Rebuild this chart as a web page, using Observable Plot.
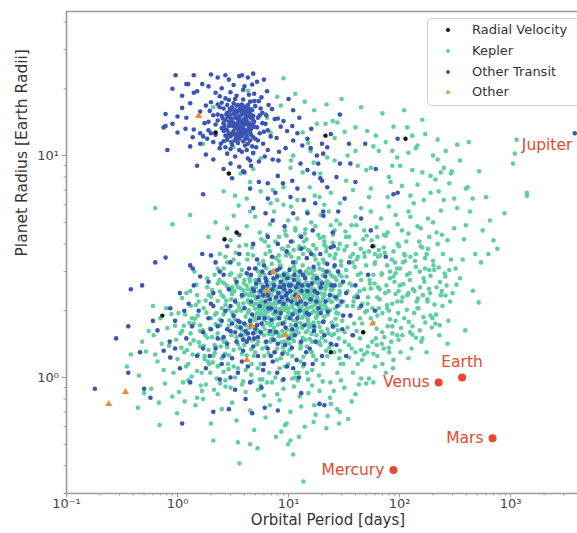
<!DOCTYPE html>
<html><head><meta charset="utf-8">
<script src="https://cdn.jsdelivr.net/npm/d3@7"></script>
<script src="https://cdn.jsdelivr.net/npm/@observablehq/plot@0.6"></script>
<style>
body{margin:0;background:#fff;overflow:hidden}
#wrap{position:relative;width:577px;height:533px;overflow:hidden}
.legend{position:absolute;left:427px;top:18px;width:170px;height:86px;border:1px solid #d0d0d0;border-radius:4px;background:rgba(255,255,255,0.85);font:13px "DejaVu Sans",sans-serif;color:#333}
.legend .row{position:absolute;left:0;height:20px;line-height:20px;white-space:nowrap}
.legend svg{position:absolute;left:14px;top:5px}
.legend span{position:absolute;left:44px}
</style></head><body><div id="wrap"></div>
<script>
// ---- data: [orbital period (days), planet radius (Earth radii)] ----
const categories = ["Radial Velocity", "Kepler", "Other Transit", "Other"];
const categoryColors = ["#111111", "#5fcfa3", "#3a55b4", "#f08a32"];

const radialVelocityPoints = [[0.73,1.9],[2.2,12.7],[2.65,4.2],[2.9,8.3],[3.4,4.5],[21.5,12.3],[47,1.6],[57,3.9],[113,11.9],[24,1.3]];

const otherPoints = [[0.24,0.76],[0.34,0.86],[1.55,15.1],[4.2,1.2],[4.7,1.7],[6.4,2.46],[7.3,3.0],[9.4,1.55],[12,2.3],[57,1.75]];

const keplerCore = [[3.4,1.52],[5.7,2.21],[8.9,1.37],[12.3,2.64],[4.1,1.88],[6.6,1.29],[15.8,1.73],[2.5,2.05],[9.7,2.93],[21.4,1.46],[7.3,1.63],[11.1,1.95],[3.9,2.47],[18.2,2.28],[5.2,1.41],[26.5,1.84],[13.6,1.24],[2.9,1.71],[8.1,2.56],[16.7,3.05],[4.6,2.14],[10.4,1.55],[6.1,1.92],[24.0,2.47],[3.2,1.33],[14.5,2.02],[7.8,2.79],[19.6,1.61],[5.5,2.67],[9.2,1.78],[2.7,1.45],[12.9,1.39],[28.8,2.12],[4.4,1.67],[17.3,2.71],[6.9,2.38],[11.7,2.19],[3.6,2.86],[22.5,1.92],[8.5,1.22],[5.0,1.81],[15.1,2.41],[10.0,2.66],[2.3,1.58],[7.0,1.49],[13.2,1.86],[20.3,2.89],[4.9,2.33],[9.5,1.43],[6.3,3.11],[25.7,1.57],[3.1,1.96],[16.0,1.31],[11.4,3.02],[5.9,1.71],[8.3,2.04],[18.8,2.17],[2.6,2.31],[14.0,2.83],[7.5,1.84],[4.2,1.26],[12.0,1.67],[29.5,2.63],[6.7,1.57],[10.7,2.32],[3.8,1.63],[21.9,2.06],[9.0,2.49],[5.3,3.01],[15.5,1.49],[2.8,2.58],[17.9,1.88],[7.6,2.21],[13.9,2.29],[4.7,1.47],[11.0,1.81],[6.0,2.52],[23.3,1.36],[3.3,2.24],[8.8,1.62],[19.2,2.51],[5.6,1.97],[14.8,1.62],[10.2,1.33],[2.4,1.82],[7.2,2.97],[16.4,2.23],[4.0,2.06],[12.6,2.48],[27.1,1.72],[6.4,1.76],[9.9,1.96],[3.5,1.41],[20.8,1.79],[8.0,2.38],[5.1,2.55],[13.4,1.51],[2.2,1.38],[11.9,2.76],[6.8,2.01],[18.5,1.43],[4.5,2.71],[15.3,2.94],[7.9,1.35],[10.9,2.13],[3.0,2.47],[24.8,2.34],[9.3,2.16],[5.8,1.35],[14.2,2.11],[2.9,1.26],[17.0,1.64],[6.5,2.27],[12.2,1.91],[4.3,1.96],[21.0,2.38],[8.6,2.87],[3.7,1.77],[10.5,1.72],[16.9,1.99],[5.4,2.42],[7.4,1.68],[26.0,2.83],[13.0,2.22],[2.5,1.49],[9.6,2.63],[4.8,1.59],[19.9,2.02],[6.2,1.44],[11.5,2.59],[3.4,2.63],[15.9,2.56],[8.4,1.91],[22.9,1.58],[5.0,2.04],[12.8,1.76],[7.1,2.64],[18.0,2.84],[2.7,2.12],[10.1,1.89],[4.1,2.38],[14.6,1.38],[6.6,1.86],[9.1,1.31],[28.0,1.94],[3.9,1.49],[16.3,2.67],[5.7,1.58],[11.2,1.46],[7.7,2.47],[20.0,1.51],[4.4,2.88],[13.7,2.58],[8.7,2.27],[3.2,1.88],[24.2,2.19],[6.1,1.65],[10.8,2.81],[2.3,2.21],[15.0,1.81],[5.2,1.73],[17.6,2.42],[9.4,1.56],[4.6,1.34],[12.4,2.08],[7.3,1.93],[19.0,1.69],[3.6,2.07],[14.3,2.47],[6.0,2.12],[27.8,1.63],[8.2,1.53],[11.6,1.61],[5.5,2.87],[21.6,2.64],[3.0,1.61],[9.8,2.21],[16.1,1.57],[4.9,1.88],[13.1,2.91],[7.0,2.35],[18.3,2.06],[2.6,1.92],[10.3,2.43],[6.4,2.74],[23.7,2.01],[4.0,1.56],[15.6,2.19],[8.0,1.73],[12.7,1.43],[5.9,2.31],[20.5,2.27],[3.3,2.78],[11.3,2.02],[7.8,1.61],[17.1,2.88],[9.0,2.07],[4.3,2.23],[14.1,1.92],[6.7,2.14],[25.3,1.69],[2.8,1.37],[10.6,1.63],[5.3,1.63],[16.6,2.33],[8.9,2.71],[3.8,2.31],[13.5,2.12],[7.5,1.47],[19.4,2.19],[4.7,2.54],[12.1,2.36],[6.3,1.37],[22.2,2.72],[9.5,1.87],[3.1,2.37],[15.4,1.69],[5.6,2.18],[11.8,1.78],[8.3,2.61],[18.7,1.77],[2.4,2.44],[14.9,2.31],[6.9,1.72],[10.0,2.04],[4.5,1.78],[29.0,2.41],[7.4,2.51],[13.3,1.67],[5.1,2.26],[17.5,2.15],[3.5,1.68],[9.3,2.78],[20.9,1.88],[6.5,1.98],[12.5,2.73],[4.2,2.59],[16.8,1.77],[8.6,1.44],[11.0,2.27],[2.9,2.03],[24.5,1.77],[7.1,1.77],[14.4,2.68],[5.8,2.05],[19.7,2.39],[3.7,2.52],[10.4,1.94],[6.2,2.39],[15.7,2.07],[9.7,1.64],[4.8,2.12],[13.8,1.99],[8.1,2.18],[21.2,2.12],[3.4,1.99],[12.0,2.14],[5.4,1.89],[18.1,1.97],[7.6,2.06],[10.9,1.57],[6.8,2.44],[16.2,2.45],[4.4,2.01],[14.7,1.74],[9.2,2.33],[23.0,2.24],[5.0,1.68],[11.4,2.23],[8.4,2.39],[3.9,2.16],[13.6,2.37],[7.2,1.56],[19.1,2.55],[6.0,1.81],[10.2,2.54],[15.2,2.26],[4.6,2.43],[12.3,1.59],[8.8,2.11],[17.7,1.86],[5.7,2.47],[9.9,2.41],[14.0,2.17],[6.6,2.32],[11.9,1.98],[7.9,1.99],[20.6,2.31],[4.1,1.72],[13.2,2.43],[8.5,2.02],[16.5,2.09],[5.2,2.15],[10.7,2.08],[7.7,2.15],[12.9,2.01],[9.1,2.01],[6.3,2.06],[15.8,2.37]];

const keplerWide = [[1.1,1.62],[1.2,2.4],[1.35,1.85],[1.48,2.62],[1.6,1.38],[1.72,2.05],[1.85,2.8],[1.95,1.66],[2.05,2.48],[2.18,1.92],[2.3,3.1],[2.42,1.72],[2.55,2.68],[2.68,1.28],[2.8,3.3],[2.93,1.81],[1.25,1.15],[1.4,1.75],[1.55,2.2],[1.65,1.05],[1.78,1.55],[1.92,2.35],[2.1,1.25],[2.25,1.95],[2.38,2.75],[2.62,1.45],[2.75,2.22],[2.88,1.09],[1.15,1.3],[1.32,2.1],[1.52,1.9],[1.88,1.18],[2.45,1.38],[2.95,2.9],[1.02,1.95],[1.42,3.0],[2.15,2.9],[2.7,3.5],
[3.05,2.95],[3.2,1.12],[3.35,3.65],[3.5,2.15],[3.65,1.35],[3.8,3.05],[3.95,2.65],[4.1,1.08],[4.25,3.4],[4.4,2.35],[4.55,1.82],[4.7,3.85],[4.85,1.25],[5.0,2.75],[5.2,1.95],[5.4,3.25],[5.6,1.15],[5.8,2.6],[6.0,1.55],[6.2,3.6],[6.45,2.1],[6.7,1.05],[6.95,3.0],[7.2,2.45],[7.45,1.3],[7.7,3.45],[8.0,1.9],[8.3,1.1],[8.6,3.15],[8.9,2.25],[9.2,1.45],[9.5,3.55],[9.8,2.8],[3.1,2.55],[3.4,1.7],[3.7,2.9],[4.0,1.4],[4.3,2.5],[4.65,1.15],[4.95,2.15],[5.3,1.45],[5.65,2.95],[6.05,1.25],[6.5,2.55],[6.9,1.45],[7.35,2.7],[7.85,1.2],[8.35,2.6],[8.85,1.55],[9.35,2.05],[9.9,1.15],[3.3,1.0],[3.9,0.96],[4.6,1.03],[5.5,0.98],[6.4,0.95],[7.6,1.0],[8.8,0.97],[3.55,3.25],[4.15,3.95],[4.8,3.55],[5.7,4.2],[6.6,3.9],[7.6,4.1],[8.7,3.8],[9.6,4.35],[5.9,3.35],[7.05,3.25],[8.15,3.55],[3.25,2.45],[3.75,2.0],[4.45,2.8],[5.05,1.6],[5.5,2.35],[6.1,2.9],[6.75,1.75],[7.15,2.15],[7.95,2.9],[8.45,1.75],[9.05,2.6],[9.65,1.85],
[10.3,3.1],[10.8,1.25],[11.3,2.45],[11.8,1.6],[12.3,3.45],[12.9,2.05],[13.5,1.12],[14.1,2.85],[14.8,1.85],[15.5,3.7],[16.2,1.3],[17.0,2.5],[17.8,1.55],[18.6,3.25],[19.5,2.1],[20.4,1.15],[21.4,2.95],[22.4,1.65],[23.5,3.55],[24.6,2.2],[25.8,1.3],[27.0,2.75],[28.3,1.5],[29.6,3.35],[10.5,2.2],[11.1,3.75],[11.6,1.05],[12.2,2.85],[12.8,1.35],[13.4,3.2],[14.0,2.35],[14.7,1.05],[15.4,2.6],[16.1,1.95],[16.9,3.05],[17.7,1.2],[18.5,2.65],[19.4,1.4],[20.3,3.05],[21.3,2.5],[22.3,1.25],[23.4,2.65],[24.5,1.55],[25.7,3.15],[26.9,1.95],[28.2,2.35],[29.5,1.15],[10.9,4.1],[12.6,4.35],[14.5,4.2],[16.7,3.95],[19.1,4.25],[22.0,3.85],[25.2,4.4],[28.9,4.0],[11.5,1.0],[15.0,0.98],[18.8,1.02],[23.8,0.95],[27.5,1.05],[10.2,1.42],[13.0,2.55],[16.4,2.8],[20.9,2.35],[26.3,2.05],[11.9,2.3],[14.3,1.6],[17.2,2.2],[19.8,2.7],[24.0,2.9],[10.6,2.65],[13.7,1.9],[15.9,1.7],[18.1,1.9],[21.8,2.05],[25.0,2.5],[29.0,2.6],[12.5,3.0],[17.5,3.4],[21.0,3.3],[27.7,3.0],
[31,2.2],[33,3.05],[35,1.4],[37,2.6],[39,1.75],[41,3.4],[43,2.05],[45,2.75],[47,1.6],[50,3.2],[52,2.3],[55,1.85],[58,2.9],[61,1.5],[64,2.55],[67,3.55],[70,1.95],[74,2.4],[78,1.7],[82,3.0],[86,2.15],[90,2.7],[95,1.55],[30,2.85],[32,1.6],[34,2.45],[36,3.5],[38,2.1],[40,1.3],[42,2.9],[44,1.85],[48,2.5],[51,1.3],[54,2.65],[57,2.05],[60,3.6],[63,1.9],[66,2.25],[69,2.95],[72,1.35],[76,2.6],[80,2.0],[84,1.45],[88,2.85],[92,1.8],[98,2.45],[33,4.3],[40,4.0],[48,3.65],[56,4.15],[65,3.75],[75,4.35],[85,3.4],[99,3.9],[31,1.15],[38,1.05],[46,1.2],[58,1.28],[70,1.15],[88,1.2],
[104,2.2],[110,1.85],[117,2.9],[124,1.6],[132,2.5],[140,3.6],[148,2.05],[157,1.45],[167,2.7],[178,2.25],[190,1.9],[202,3.2],[215,2.55],[228,1.55],[243,2.1],[258,2.85],[275,1.8],[107,3.3],[120,2.4],[135,1.95],[152,3.0],[162,2.35],[185,3.05],[210,1.75],[235,2.35],[265,2.6],[115,4.1],[160,3.85],[220,4.0],[280,3.05],[102,1.3],[128,1.35],[175,1.3]];

const keplerMid = [[8.2,3.35],[9.1,2.95],[10.1,3.6],[11.2,3.15],[12.4,2.55],[13.8,3.85],[15.3,2.45],[17.0,3.55],[18.9,2.75],[21.0,3.95],[23.3,2.6],[25.9,3.45],[28.7,2.9],[31.9,3.75],[35.4,2.65],[39.3,3.15],[43.6,2.45],[48.4,3.5],[53.7,2.75],[59.6,3.25],[66.2,2.5],[73.5,3.65],[81.6,2.8],[90.6,3.3],[100.5,2.6],[111.6,3.55],[123.9,2.75],[137.5,3.35],[152.6,2.55],[169.4,3.1],[188.0,2.4],[8.6,1.75],[9.6,2.1],[10.7,1.5],[11.9,2.4],[13.2,1.7],[14.6,2.05],[16.2,1.45],[18.0,2.3],[20.0,1.6],[22.2,2.0],[24.6,1.4],[27.3,2.25],[30.3,1.8],[33.6,2.1],[37.3,1.55],[41.4,2.35],[46.0,1.75],[51.0,2.0],[56.6,1.45],[62.8,2.3],[69.7,1.6],[77.4,2.05],[85.9,1.7],[95.4,2.2],[105.9,1.55],[117.5,2.35],[130.4,1.7],[144.8,2.05],[160.7,1.5],[178.4,2.2],[198.0,1.85],[9.4,4.4],[11.5,4.7],[14.0,4.45],[17.4,4.8],[20.7,4.3],[26.0,4.6],[32.5,4.55],[40.8,4.85],[50.5,4.35],[62.0,4.75],[78.0,4.5],[96.0,4.9],[120.0,4.45],[145.0,4.8],[185.0,4.3],[9.8,1.28],[12.8,1.18],[16.7,1.25],[21.8,1.32],[28.6,1.22],[37.0,1.35],[47.8,1.27],[62.2,1.4],[80.6,1.3],[8.9,2.45],[10.4,2.85],[12.0,2.15],[13.9,2.65],[16.1,2.95],[18.6,2.2],[21.5,2.55],[24.9,2.85],[28.8,2.45],[33.3,2.85],[38.5,2.2],[44.5,2.95],[51.5,2.15],[59.5,2.65],[68.8,2.9],[79.5,2.45],[92.0,2.95],[106.3,2.3],[123.0,2.95],[142.2,2.2],[164.5,2.8],[2.3,2.65],[2.65,1.95],[3.05,2.25],[3.5,2.55],[4.0,2.75],[4.6,2.35],[5.3,2.05],[6.1,2.45],[7.0,2.65],[8.05,2.35],[1.6,1.72],[1.85,2.55],[2.15,1.4],[2.5,2.35],[2.85,1.15],[3.3,1.82],[3.8,1.28],[4.35,2.18],[5.0,1.3],[5.75,1.9],[6.6,1.58],[7.6,2.25],[1.3,1.42],[1.5,2.35],[1.75,1.25],[2.0,1.85],[2.3,1.12],[2.65,2.65],[3.05,1.55],[3.5,1.1],[4.0,2.35],[4.6,1.72],[5.3,1.1],[6.1,2.0],[7.0,1.25],[8.05,1.58],[9.3,1.12],[10.7,1.5],[12.3,1.05],[14.2,1.48],[16.3,1.08],[18.8,1.45]];

const keplerShort = [[0.45,1.02],[0.52,1.31],[0.58,0.89],[0.61,1.55],[0.66,1.18],[0.72,1.42],[0.77,0.94],[0.81,1.67],[0.86,1.23],[0.92,1.05],[0.97,1.48],[1.03,0.86],[1.08,1.36],[1.14,1.71],[1.19,1.12],[1.25,0.97],[1.31,1.58],[1.37,1.27],[1.43,1.84],[1.5,1.07],[1.56,1.44],[1.62,0.92],[1.69,1.63],[1.75,1.21],[1.82,1.96],[1.9,1.33],[1.97,1.05],[2.05,1.52],[2.13,0.88],[2.2,1.74],[0.55,1.62],[0.63,1.27],[0.7,1.85],[0.75,1.08],[0.84,1.39],[0.9,0.82],[0.95,1.71],[1.0,1.21],[1.06,1.58],[1.12,0.95],[1.17,1.92],[1.22,1.33],[1.28,1.76],[1.34,1.01],[1.4,1.47],[1.46,2.12],[1.53,1.27],[1.59,1.62],[1.66,0.87],[1.72,1.39],[1.79,2.22],[1.86,1.51],[1.93,1.15],[2.0,2.31],[2.08,1.17],[2.16,1.29],[2.25,0.99],[2.33,1.13],[2.42,0.94],[2.5,1.22],[2.6,1.06],[2.7,0.91],[0.35,1.12],[0.44,0.73],[0.5,0.85],[0.68,0.77],[0.79,2.05],[0.88,1.93],[1.1,2.28],[1.3,2.45],[0.6,2.1],[0.48,1.45],[0.38,1.27],[1.16,0.78],[1.45,0.75],[1.7,0.8],[0.99,0.69],[0.69,0.61]];

const keplerSmall = [[2.3,0.84],[3.1,0.77],[3.8,0.93],[4.5,0.71],[5.3,0.88],[6.2,0.66],[7.1,0.95],[8.3,0.79],[9.6,0.62],[11.2,0.91],[13.0,0.74],[15.1,0.85],[17.5,0.68],[20.3,0.96],[23.6,0.81],[27.4,0.72],[31.8,0.9],[37.0,0.78],[43.0,0.93],[2.7,0.97],[3.4,0.64],[4.1,0.86],[4.9,0.58],[5.8,0.98],[6.8,0.75],[7.7,0.54],[9.0,0.89],[10.4,0.7],[12.1,0.97],[14.0,0.6],[16.3,0.92],[18.9,0.76],[21.9,0.59],[25.5,0.87],[29.6,0.97],[34.4,0.65],[40.0,0.84],[50.0,0.94],[3.5,0.51],[4.5,0.5],[2.1,0.52],[5.25,0.48],[9.9,0.5],[12.4,0.54],[10.4,0.52],[9.3,0.61],[17,0.75],[29,0.7],[24,0.76],[3.6,0.41],[13.6,0.34],[11.0,0.45],[16.8,0.63],[8.6,0.57],[2.0,0.62],[2.5,0.72],[1.8,0.93],[1.5,0.81],[12.6,0.82],[5.6,0.92],[7.9,0.84],[10.8,0.99],[4.7,0.96],[3.0,0.9],[6.0,0.83],[19.0,0.87],[22.5,0.67],[28.5,0.62],[45,0.99],[58,0.95]];

const keplerLong = [[32,1.45],[36,1.9],[41,1.62],[46,2.15],[52,1.38],[58,1.76],[65,2.05],[73,1.52],[82,1.83],[92,2.38],[103,1.67],[116,2.02],[130,1.56],[146,2.27],[164,1.87],[184,2.51],[206,2.13],[231,2.69],[259,2.34],[300,2.4],[325,2.62],[457,2.46],[515,2.18],[390,1.63],[270,1.42],[170,1.77],[87,1.1],[34,1.68],[39,2.3],[44,1.5],[49,1.97],[55,2.52],[62,1.66],[69,1.42],[77,2.12],[86,1.58],[97,1.95],[108,2.64],[121,1.78],[136,2.45],[152,1.63],[190,2.87],[213,1.92],[240,2.45],[285,2.2],[350,2.8],[38,3.6],[47,4.2],[59,3.9],[72,4.4],[88,3.7],[105,4.6],[125,3.5],[150,4.1],[180,3.8],[215,4.5],[45,1.33],[63,1.25],[80,1.36],[98,1.48],[140,1.51],[60,1.12],[75,1.05],[120,1.22],[53,0.99],[42,1.15],[35,1.23],[29,1.32],[195,1.68],[230,1.72],[95,3.1],[112,3.35],[140,3.15],[170,3.45],[205,3.05],[245,3.6],[290,3.4],[33.4,3.9],[37.6,3.3],[42.1,3.5],[53.0,3.7],[60.2,3.3],[77.3,3.2],[101,3.1],[3.2,3.4],[5.1,3.1],[6.8,3.7],[8.4,3.2],[9.9,3.9],[11.6,3.3],[13.5,3.6],[15.2,3.1],[17.8,3.8],[20.4,3.4],[23.1,3.0],[26.5,3.6],[29.8,3.2],[4.3,3.6],[7.5,3.0],[10.6,3.5],[12.4,3.8],[14.3,3.0],[19.0,3.1],[21.8,3.7],[28.0,3.8],[44.6,3.8],[64.0,3.5],[2.6,3.1]];

const keplerUpper = [[9.0,22.3],[7.9,18.4],[8.5,16.8],[6.2,15.4],[6.9,12.7],[18,13.9],[13.4,12.7],[15,11.4],[11,10],[15.8,10.5],[22.3,9.8],[8.1,9.5],[5.6,9.7],[4.8,8.7],[3.7,8.3],[4.5,7.6],[10.4,8.8],[13.4,8.4],[16.8,9.3],[19.3,8.3],[3.3,6.6],[3.55,5.95],[3.2,5.35],[4.2,6.4],[5.6,6.9],[6.9,6.1],[9.0,7.2],[12,6.3],[14.7,5.6],[0.63,5.8],[4.3,19.6],[2.1,16.5],[1.7,11.3],[3.2,10.9],[4.8,10.2],[6.4,14.8],[5.3,17.6],[21.5,13.9],[27.5,14.1],[25,14.3],[40,13.4],[51,12.9],[61,12.3],[88,13.5],[117,13.4],[130,12.3],[145,11.1],[220,11.8],[330,11.2],[1130,11.8],[1090,10.2],[1050,9.2],[40,10.5],[86,10.5],[120,10.3],[220,9.6],[50,8.6],[55,8.8],[86,9.0],[101,9.0],[130,8.6],[160,8.4],[190,8.1],[235,8.4],[295,8.5],[410,7.2],[455,6.4],[880,5.5],[83,7.6],[55,7.1],[78,6.5],[125,6.6],[134,6.1],[190,6.8],[225,6.9],[250,6.3],[310,6.4],[53,6.5],[38,7.0],[29,6.1],[45,5.8],[55,5.6],[80,5.9],[125,5.3],[155,4.7],[180,5.2],[235,5.65],[270,4.15],[310,4.7],[395,4.85],[560,4.6],[700,4.15],[480,3.6],[630,3.6],[37,4.85],[29,4.9],[24,4.85],[23,5.6],[25,4.05],[63,4.3],[72,3.85],[96,4.0],[110,3.6],[155,3.9],[175,3.6],[200,3.36],[225,3.13],[255,2.94],[1400,6.8],[1400,6.6],[200,10.0],[250,8.8],[290,8.3],[395,7.1],[4.2,4.8],[4.5,5.6],[3.0,4.15],[2.4,3.6],[1.9,4.3],[5.5,4.5],[6.8,4.9],[8.2,4.3],[9.9,5.1],[11.5,4.6],[13.8,4.1],[16,5.0],[18.5,4.4],[7.4,5.6],[10.5,5.9],[5.0,5.3],[6.1,4.1],[8.9,3.8],[12.5,3.9],[15,3.75],[19.5,5.4],[21,4.1],[3.6,3.9],[2.8,4.7],[7.9,6.3],[17.2,6.6],[2.2,5.0],[6.4,4.4],[9.3,4.6],[14.2,4.65],
[11.5,19],[14,17.5],[17,16],[22,17],[30,18],[45,16.5],[70,15.5],[110,16],[160,14.5],[26,12],[34,10],[42,9],[65,10.5],[75,11.5],[95,9.8],[140,10.8],[170,12.5],[260,10.5],[350,9.5],[420,11.5],[520,8.5],[600,6.5],[330,5.8],[280,7.5],[210,7.8],[165,6.3],[145,7.4],[105,7.3],[92,5.4],[68,5.2],[48,4.6],[40,5.3],[33,7.7],[24,6.8],[19,6.5],[26,9.5],[32,12.8],[58,11.0],[80,8.0],[120,5.6],[200,5.0],[240,4.4],[380,4.2],[430,5.6],[650,5.1],[760,3.8],[540,3.3],[370,3.4],[320,3.1],[12,5.2],[9,6.0],[7.2,7.0],[10.5,9.5],[15.5,7.2],[21,6.0],[27,5.1],[35,4.3],[2.6,6.9],[1.3,5.4],[0.9,4.9]];

const transitHotJupiters = [[3.1,14.2],[3.5,13.1],[2.8,15.6],[4.2,12.4],[3.9,16.1],[2.6,12.9],[4.6,14.8],[3.3,11.7],[3.7,15.2],[2.9,13.6],[4.1,13.9],[3.4,16.8],[4.8,12.1],[2.7,14.5],[3.6,12.6],[4.4,15.7],[3.0,12.2],[3.8,14.0],[4.3,11.3],[2.5,15.1],[3.2,17.2],[4.9,13.5],[3.5,15.9],[2.8,11.8],[4.0,16.6],[3.3,13.4],[4.5,12.8],[3.9,11.6],[2.6,16.3],[3.1,12.5],[4.7,16.0],[3.6,14.6],[2.9,15.0],[4.2,14.3],[3.4,12.0],[3.8,17.0],[4.6,13.2],[3.0,16.0],[3.7,13.3],[4.1,11.9],[2.7,13.1],[3.2,15.4],[4.4,14.0],[3.5,11.4],[3.9,15.5],[2.6,14.0],[4.8,15.1],[3.3,14.8],[4.0,12.7],[3.1,16.5],[3.6,11.9],[4.3,16.9],[2.9,12.6],[3.8,12.9],[4.5,11.7],[3.4,15.6],[2.8,16.9],[4.1,15.3],[3.0,13.8],[3.7,16.4],[4.9,14.2],[3.2,12.9],[3.5,14.5],[4.2,13.0],[2.7,12.3],[3.9,13.6],[4.6,12.4],[3.3,16.0],[3.6,13.7],[4.0,14.7],[2.5,13.3],[3.1,11.2],[3.8,15.8],[4.4,12.9],[3.4,13.9],[2.9,14.2],[4.7,13.8],[3.7,12.2],[3.2,14.0],[4.3,15.0],[3.0,15.3],[3.5,16.9],[4.1,12.6],[2.6,11.6],[3.9,14.4],[4.5,16.2],[3.3,12.4],[3.6,15.0],[2.8,13.0],[4.2,16.3],
[3.15,13.6],[3.45,14.9],[3.75,12.8],[4.05,15.8],[2.85,14.9],[3.55,13.5],[4.35,13.6],[3.05,14.6],[3.85,12.3],[2.95,16.2],[4.15,14.6],[3.25,15.7],[3.65,16.2],[4.55,15.3],[2.75,15.3],[3.35,11.9],[4.25,12.0],[3.95,13.1],[3.15,12.7],[2.65,13.6],[4.75,14.5],[3.55,12.2],[3.85,16.6],[3.05,11.5],[4.45,13.4],[2.55,14.7],[3.45,12.5],[4.05,11.1],[3.65,14.1],[2.85,12.2],[5.2,13.4],[5.5,15.2],[5.0,16.7],[5.8,14.0],[2.3,14.4],[2.2,12.4],[2.4,16.5],[2.1,15.2],[5.3,11.7],[2.45,11.3],[6.0,12.8],[1.9,13.0],[1.95,15.9],[5.6,16.3],[4.9,17.6],[3.3,18.0],[2.9,17.8],[3.9,17.9],[4.5,17.5],[2.5,17.3],[3.6,10.6],[4.2,10.6],[3.0,10.7],[2.7,10.9],[4.7,11.0],[5.0,11.9],[1.75,14.0],[1.85,11.9],[6.3,15.2],[6.5,13.0],
[1.2,21.0],[1.5,19.5],[1.9,20.5],[2.3,22.5],[2.9,22.0],[3.6,22.8],[4.3,22.5],[5.2,21.5],[1.3,17.2],[1.1,16.4],[1.6,15.8],[1.4,13.1],[1.0,12.7],[1.7,12.2],[1.2,14.8],[2.0,17.4],[2.2,13.8],[1.8,16.8],[2.1,11.5],[2.4,18.5],[1.9,14.2],[2.3,15.3],[2.0,12.6],[1.6,11.3],[2.2,19.2],[2.5,20.1],[3.0,19.3],[3.4,18.6],[3.9,19.8],[4.4,18.8],[4.9,19.0],[5.4,17.6],[5.8,15.6],[6.2,13.9],[5.5,12.6],[6.6,16.9],[5.1,10.9],[5.9,11.3],[6.9,12.2],[7.5,14.6],[5.3,14.8],[5.7,18.3],[2.4,10.8],[2.8,10.2],[3.3,9.9],[3.8,10.4],[4.3,9.7],[4.8,10.3],[2.1,9.6],[1.8,10.1],[3.0,9.2],[3.6,8.9],[4.0,8.4],[4.6,9.0],[5.4,9.4],[6.1,9.9],[1.5,9.0],[2.6,8.7],[1.1,18.6],[0.9,20.0],[0.96,23],[1.0,15.0],[0.9,13.9],[1.3,11.0],[2.3,17.0],[2.7,18.1],[3.2,20.8],[4.0,20.5],[4.7,20.9],[6.4,19.5],[7.1,16.2],[6.0,22.0],[7.8,12.0],[8.5,13.5],[6.5,10.6],[7.2,9.6],[8.2,10.4],[1.4,23.0],[2.0,23.2],[1.25,21],[1.67,21],[2.7,23],[3.8,23],[4.8,23.4],[1.4,19.2],[0.78,15.4],[0.75,13.4],[1.18,13.2],[1.37,12.1],[1.6,12.6]];

const transitTail = [[8,14.7],[9,14.3],[10.8,13.6],[9.7,12.9],[12,12.6],[14.8,11.9],[13.3,11.1],[9.4,10.8],[8.1,9.5],[11,11.7],[15.8,10.8],[18,10],[20,11.3],[22.3,10.9],[18.5,9.2],[12.8,9.2],[14.8,8.6],[8,8.1],[8.9,7.5],[10.8,7.7],[12,7.1],[19.3,7.9],[22.3,7.2],[7.6,6.8],[10.4,6.5],[13.7,6.3],[17.4,6.1],[6.5,6.4],[4.8,5.8],[6.2,5.5],[11,5.5],[14.8,5.5],[20.6,5.35],[4.5,7.1],[5.4,7.6],[6.5,7.5],[3.9,8.5],[4.5,9.5],[3.1,7.9],[1.7,6.7],[0.81,10.6],[0.78,13.6],[29,15.3],[35,11.3],[49,11.3],[96,11.9],[88,6.7],[96,6.8],[40,7.6],[61,8.7],[29,9.2],[36,9.2],[20.5,10.2],[20,7.7],[20.5,5.6],[24,3.85],[3776,12.6],[16.5,4.6],[25,4.5],[13,4.3],[9.2,4.8],[7.2,5.1],[28,5.6],[32,6.4],[27,8.0],[17,8.3],[24,12.5],[16,13.2],[12.5,14.8],[11,16],[10,18]];

const transitSmall = [[2.1,2.4],[2.6,2.9],[3.0,2.1],[3.4,2.7],[3.8,2.35],[4.2,2.95],[4.6,2.2],[5.1,2.65],[5.6,2.45],[6.2,2.8],[6.8,2.25],[7.4,2.6],[8.1,2.4],[8.7,2.3],[9.2,2.5],[9.8,2.25],[10.4,2.45],[8.4,2.55],[9.5,2.35],[10.1,2.6],[11.2,2.75],[12.3,2.3],[13.5,2.9],[14.8,2.45],[16.2,2.65],[17.8,2.2],[19.5,2.55],[21.4,2.85],[23.5,2.35],[26.0,2.6],[3.2,1.9],[3.7,1.55],[4.1,1.62],[4.4,1.5],[4.8,1.58],[5.0,1.66],[5.3,1.52],[4.6,1.7],[3.9,1.48],[5.7,1.75],[6.3,1.45],[7.0,1.82],[7.7,1.6],[8.5,1.95],[9.4,1.68],[10.3,1.85],[11.4,1.55],[12.6,2.0],[13.9,1.72],[15.3,1.92],[16.9,1.62],[18.6,2.05],[20.5,1.78],[22.6,1.98],[2.2,1.35],[2.5,1.15],[2.8,1.42],[3.1,1.22],[3.5,1.05],[3.9,1.32],[4.3,1.12],[4.8,1.38],[5.3,1.25],[5.9,1.08],[6.5,1.35],[7.2,1.18],[8.0,1.42],[8.8,1.28],[9.7,1.12],[10.7,1.36],[11.8,1.2],[13.0,1.45],[14.4,1.3],[1.7,1.6],[1.9,1.85],[2.3,1.7],[2.7,2.0],[1.5,1.25],[1.8,1.1],[2.0,2.15],[6.0,3.2],[7.1,3.5],[8.3,3.1],[9.6,3.7],[11.0,3.3],[12.7,3.0],[5.2,3.4],[4.4,3.1],[3.6,3.6],[14.6,3.45],[16.8,3.15],[19.3,3.6],[22.3,3.25],[25.5,3.9],[3.0,3.3],[2.4,3.0],[6.6,2.05],[7.6,1.98],[5.5,2.1],[4.0,2.05],[3.3,2.2],[2.9,2.5],[12.0,2.15],[10.9,1.92],[15.8,2.25],[18.2,2.4],[27.5,2.1],[30.5,1.65],[33,2.4],[28,3.0],[36,1.9],[6.9,1.25],[7.9,1.05],[9.0,0.98],[4.5,0.95],[3.3,0.88],[5.7,0.9],[2.4,0.98],[12.4,1.0],[16.5,1.15],[19,0.76],[21,0.75],[13,0.85],[20,1.25],[24,1.42],[6.1,0.73],[8,0.71],[4.7,0.69],[2.1,0.7],[2.9,0.72],[4.1,0.8],[1.2,1.5],[1.05,1.1],[1.3,0.95],[0.95,1.8],[0.85,1.45],[1.15,2.0],[9.1,2.9],[10.2,3.05],[7.9,2.85],[6.4,2.6],[5.9,2.35],[4.9,2.45],[11.7,2.55],[13.2,2.6],[14.3,2.15],[8.9,1.75],[7.3,1.48],[10.0,1.5],[11.6,1.72],[6.8,1.62],[5.4,1.85],[4.7,1.92],[3.6,1.78],[3.0,1.62],[2.6,1.52],[17.5,1.45],[21,1.55],[25,1.7],[26.5,2.3],[31,2.7],[35,3.3],[40,2.6],[45,2.1],[38,1.55],[52,2.9],[33,1.25],
[0.18,0.89],[0.28,1.5],[0.36,1.7],[0.36,1.05],[0.38,2.5],[0.48,2.6],[0.46,1.3],[0.5,0.89],[0.57,0.81],[0.6,1.8],[0.66,1.63],[0.75,1.32],[0.86,1.23],[0.86,2.05],[1.1,0.62],[1.26,2.15],[1.37,3.1],[1.6,2.85],[0.63,3.3],[0.78,3.47],[1.3,3.2],[1.67,3.6],[2.0,3.55],[1.4,2.6],
[4.6,2.9],[5.0,3.1],[5.4,2.75],[5.8,3.0],[6.3,2.7],[6.8,2.95],[7.3,2.8],[7.9,3.05],[8.5,2.7],[9.1,2.6],[9.8,2.8],[10.5,2.6],[11.3,2.9],[12.2,2.65],[13.1,2.45],[14.1,2.8],[4.8,2.5],[5.3,2.3],[5.9,2.55],[6.5,2.35],[7.1,2.5],[7.7,2.3],[8.3,2.2],[9.0,2.15],[9.7,2.4],[10.6,2.2],[11.5,2.35],[12.8,2.2],[3.1,1.75],[3.3,1.6],[3.5,1.8],[3.7,1.68],[4.0,1.75],[4.3,1.58],[4.5,1.8],[4.9,1.5],[5.2,1.72],[3.4,1.45],[4.2,1.45],[5.6,1.6],[6.1,1.85],[2.5,1.8],[2.8,1.65],[2.3,1.5],[2.0,1.65],[1.7,1.35],[1.95,1.25],[2.6,1.25],[3.0,1.0],[3.8,1.18],[6.0,1.15],[7.5,1.3],[9.3,1.4],[11,1.1],[13.8,1.15],[15.5,1.35],[17,1.7],[19.5,1.95],[21.5,2.2],[24.5,2.6],[26,3.2],[30,2.2],[18,2.8],[16,3.6],[13,3.8],[10.5,4.1],[8,4.0],[6.5,4.3],[4.8,4.0],[3.6,4.4],[2.8,3.9],[2.2,3.3],[1.9,2.7],[2.1,2.1],[1.55,2.0],[1.35,1.7],[0.95,1.35],[1.05,2.4],[15,2.6],[17.2,2.45],[20,2.65],[22,3.0],[12,1.85],[14.6,1.95],[10.8,1.65],[8.2,1.85],[7.0,2.05],[6.2,2.2],[27,1.4],[31,1.9],[42,2.3],[60,2.0],[75,3.5],[55,4.6],[45,5.2]];

const keplerPoints = [...keplerCore, ...keplerWide, ...keplerMid, ...keplerShort, ...keplerSmall, ...keplerLong, ...keplerUpper];
const otherTransitPoints = [...transitHotJupiters, ...transitTail, ...transitSmall];

const planetNames = ["Mercury", "Venus", "Earth", "Mars", "Jupiter"];
const planetPeriods = [87.97, 224.7, 365.25, 687.0, 4332.6];
const planetRadii = [0.383, 0.949, 1.0, 0.532, 11.21];
const planetColor = "#e8482e";

const xDomain = [0.1, 4000];
const yDomain = [0.3, 44.6];
const xMajorTicks = [0.1, 1, 10, 100, 1000];
const xMinorTicks = [0.2,0.3,0.4,0.5,0.6,0.7,0.8,0.9,2,3,4,5,6,7,8,9,20,30,40,50,60,70,80,90,200,300,400,500,600,700,800,900,2000,3000];
const yMajorTicks = [1, 10];
const yMinorTicks = [0.3,0.4,0.5,0.6,0.7,0.8,0.9,2,3,4,5,6,7,8,9,20,30,40];
const xLabel = "Orbital Period [days]";
const yLabel = "Planet Radius [Earth Radii]";

// ---- rendering ----
const supMap = {"-":"\u207B","0":"\u2070","1":"\u00B9","2":"\u00B2","3":"\u00B3","4":"\u2074"};
const sup = v => "10" + String(Math.round(Math.log10(v))).split("").map(c => supMap[c]).join("");
const px = d => d[0], py = d => d[1];
const planets = planetNames.map((n, i) => ({name: n, p: planetPeriods[i], r: planetRadii[i]}));
const axisColor = "#9a9a9a";
const font = "DejaVu Sans, sans-serif";

const chart = Plot.plot({
  width: 577, height: 533,
  marginLeft: 66, marginRight: 0, marginTop: 11, marginBottom: 40,
  style: {fontFamily: font, background: "#fff", overflow: "hidden"},
  x: {type: "log", domain: xDomain},
  y: {type: "log", domain: yDomain},
  marks: [
    Plot.dot(keplerPoints, {x: px, y: py, r: 2.3, fill: categoryColors[1]}),
    Plot.dot(otherTransitPoints, {x: px, y: py, r: 2.3, fill: categoryColors[2]}),
    Plot.dot(radialVelocityPoints, {x: px, y: py, r: 2.2, fill: categoryColors[0]}),
    Plot.dot(otherPoints, {x: px, y: py, r: 2.6, symbol: "triangle", fill: categoryColors[3]}),
    Plot.dot(planets, {x: "p", y: "r", r: 4, fill: planetColor}),
    Plot.text(planets.filter(d => d.name !== "Earth"), {x: "p", y: "r", text: "name", dx: -9, textAnchor: "end", fill: planetColor, fontSize: 15.5}),
    Plot.text(planets.filter(d => d.name === "Earth"), {x: "p", y: "r", text: "name", dy: -15, fill: planetColor, fontSize: 15.5}),
    Plot.ruleX([xDomain[0]], {stroke: axisColor, strokeWidth: 1.6}),
    Plot.ruleY([yDomain[0]], {stroke: axisColor, strokeWidth: 1.6}),
    Plot.ruleY([yDomain[1]], {stroke: axisColor, strokeWidth: 1.6}),
    Plot.axisX({ticks: xMajorTicks, tickFormat: sup, tickSize: 4.5, tickPadding: 1, fontSize: 13, stroke: axisColor, fill: "#444", label: null}),
    Plot.axisX({ticks: xMinorTicks, tickSize: 2.5, stroke: axisColor, fill: "none", label: null}),
    Plot.axisY({ticks: yMajorTicks, tickFormat: sup, tickSize: 4.5, tickPadding: 3, fontSize: 13, stroke: axisColor, fill: "#444", label: null}),
    Plot.axisY({ticks: yMinorTicks, tickSize: 2.5, stroke: axisColor, fill: "none", label: null}),
    Plot.text([xLabel], {text: d => d, frameAnchor: "bottom", dx: 6, dy: 31, fontSize: 15, fill: "#333"}),
    Plot.text([yLabel], {text: d => d, frameAnchor: "left", dx: -44, dy: 4, rotate: -90, fontSize: 15.5, fill: "#333"})
  ]
});

const wrap = document.getElementById("wrap");
wrap.appendChild(chart);

// legend (inside the plot, top right)
const legend = document.createElement("div");
legend.className = "legend";
const rowTops = [1, 22, 43, 63];
categories.forEach((c, i) => {
  const row = document.createElement("div");
  row.className = "row";
  row.style.top = rowTops[i] + "px";
  const marker = i === 3
    ? `<svg width="12" height="10"><path d="M6,2.6L8.4,6.8L3.6,6.8Z" fill="${categoryColors[i]}"/></svg>`
    : `<svg width="12" height="10"><circle cx="6" cy="5" r="2" fill="${categoryColors[i]}"/></svg>`;
  row.innerHTML = marker + `<span>${c}</span>`;
  legend.appendChild(row);
});
wrap.appendChild(legend);
</script>
</body></html>
